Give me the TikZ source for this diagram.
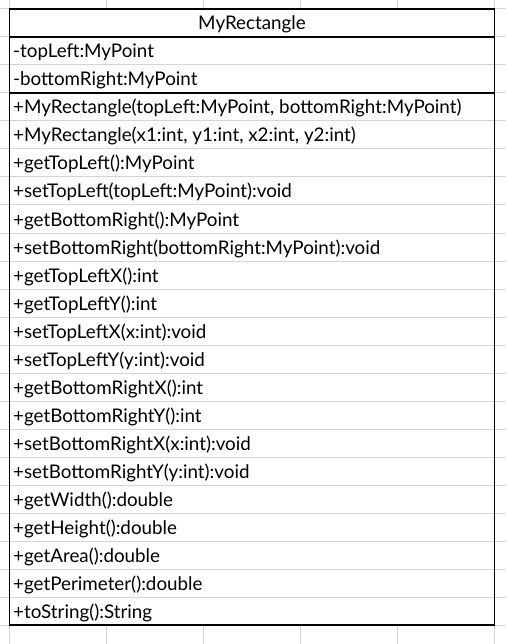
\documentclass[tikz,border=0pt]{standalone}
\usepackage{fontspec}
\setmainfont{Lato}
\begin{document}
\begin{tikzpicture}[x=1pt,y=-1pt,
  gridline/.style={draw=black!17,line width=1pt},
  sepline/.style={draw=black,line width=1.3pt},
  member/.style={anchor=base west,inner sep=0pt,font=\fontsize{18.8}{22}\selectfont},
  title/.style={anchor=base,inner sep=0pt,font=\fontsize{18.8}{22}\selectfont}]
\useasboundingbox (0,0) rectangle (506,644);
\fill[white] (0,0) rectangle (506,644);
% sheet gridlines
\foreach \gx in {9.5,106.5,203.5,300.5,397.5,494.5} \draw[gridline] (\gx,0) -- (\gx,644);
\foreach \k in {0,...,22} \draw[gridline] (0,9+28*\k) -- (506,9+28*\k);
% class box
\fill[white] (9.5,9) rectangle (494.5,625);
\foreach \k in {2,4,5,...,21} \draw[gridline] (9.5,9+28*\k) -- (494.5,9+28*\k);
\node[title] (name) at (252,30) {MyRectangle};
\foreach \t [count=\i] in {-topLeft:MyPoint,-bottomRight:MyPoint}
  \node[member] (a\i) at (13,30+28*\i) {\t};
\foreach \t [count=\i] in {
  {+MyRectangle(topLeft:MyPoint, bottomRight:MyPoint)},
  {+MyRectangle(x1:int, y1:int, x2:int, y2:int)},
  +getTopLeft():MyPoint,
  +setTopLeft(topLeft:MyPoint):void,
  +getBottomRight():MyPoint,
  +setBottomRight(bottomRight:MyPoint):void,
  +getTopLeftX():int,
  +getTopLeftY():int,
  +setTopLeftX(x:int):void,
  +setTopLeftY(y:int):void,
  +getBottomRightX():int,
  +getBottomRightY():int,
  +setBottomRightX(x:int):void,
  +setBottomRightY(y:int):void,
  +getWidth():double,
  +getHeight():double,
  +getArea():double,
  +getPerimeter():double,
  +toString():String}
  \node[member] (m\i) at (13,86+28*\i) {\t};
\draw[sepline] (9.5,37) -- (494.5,37);
\draw[sepline] (9.5,93) -- (494.5,93);
\draw[sepline] (9.5,9) rectangle (494.5,625);
\end{tikzpicture}
\end{document}
